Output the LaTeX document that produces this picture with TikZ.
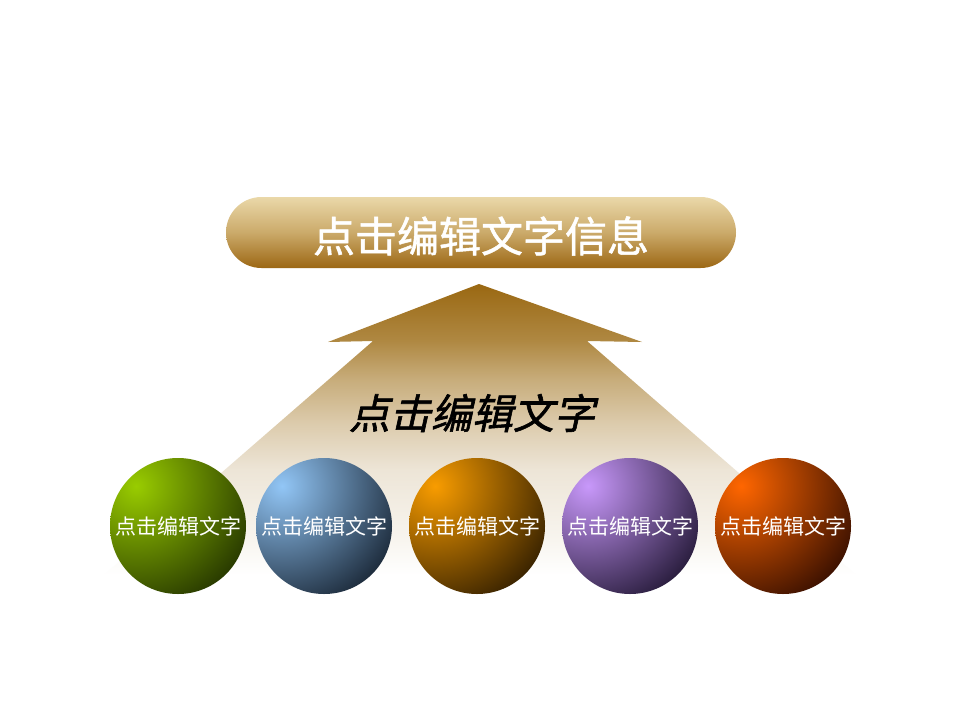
\documentclass[tikz,border=0pt]{standalone}
\usepackage{fontspec}
\newfontfamily\cjk{Noto Sans CJK SC}
\newfontfamily\cjkbanner[FakeBold=1.2]{Noto Sans CJK SC}
\newfontfamily\cjkslant[FakeSlant=0.22,FakeBold=1.5]{Noto Sans CJK SC}
\definecolor{aA}{HTML}{F8F5EF}
\definecolor{aB}{HTML}{EDE5D7}
\definecolor{aC}{HTML}{DCCBAC}
\definecolor{aD}{HTML}{C7AC7A}
\definecolor{aE}{HTML}{AF8842}
\definecolor{aF}{HTML}{9A6812}
\pgfdeclareverticalshading{arrowshade}{100bp}{color(0bp)=(white); color(29bp)=(white); color(34.5bp)=(aA); color(45.6bp)=(aB); color(53bp)=(aC); color(60bp)=(aD); color(66bp)=(aE); color(75bp)=(aF); color(100bp)=(aF)}
\definecolor{bannerTop}{HTML}{EAD8A9}
\definecolor{bannerMid}{HTML}{CBAA6A}
\definecolor{bannerBot}{HTML}{9C6714}
\definecolor{gL}{HTML}{99CC00}\definecolor{gD}{HTML}{273800}
\definecolor{bL}{HTML}{92C6F6}\definecolor{bD}{HTML}{1C2A3A}
\definecolor{oL}{HTML}{F89C00}\definecolor{oD}{HTML}{382200}
\definecolor{pL}{HTML}{C898FA}\definecolor{pD}{HTML}{281C3C}
\definecolor{rL}{HTML}{FF6600}\definecolor{rD}{HTML}{3A1000}
\tikzset{
  ball/.style 2 args={circle, minimum size=136pt, inner sep=0pt, text=white,
    font=\cjk\fontsize{21}{21}\selectfont,
    path picture={\shade[inner color=#1, outer color=#2]
      ([shift={(-42pt,40pt)}]path picture bounding box.center) circle (128pt);}},
  banner/.style={minimum width=510pt, minimum height=71pt, rounded corners=35.5pt,
    inner sep=0pt, top color=bannerTop, bottom color=bannerBot, middle color=bannerMid},
  bannertext/.style={text=white, font=\cjkbanner\fontsize{42}{42}\selectfont},
  arrowlabel/.style={text=black, font=\cjkslant\fontsize{41}{41}\selectfont}
}
\begin{document}
\begin{tikzpicture}[x=1pt,y=-1pt]
\useasboundingbox (0,0) rectangle (960,720);
\fill[white] (0,0) rectangle (960,720);
% arrow
\coordinate (apex) at (479,284);
\coordinate (rtip) at (642,342);
\coordinate (rnotch) at (587,341);
\coordinate (rbot) at (885,600);
\coordinate (lbot) at (75,600);
\coordinate (lnotch) at (373,341);
\coordinate (ltip) at (328,342);
\shade[shading=arrowshade] (apex) -- (rtip) -- (rnotch) -- (rbot) -- (lbot) -- (lnotch) -- (ltip) -- cycle;
\node[arrowlabel] (lbl) at (472,413) {点击编辑文字};
% banner
\node[banner] (top) at (481,232.5) {};
\node[bannertext] (toptext) at (481,236) {点击编辑文字信息};
% balls
\node[ball={gL}{gD}] (c1) at (178,526) {点击编辑文字};
\node[ball={bL}{bD}] (c2) at (324,526) {点击编辑文字};
\node[ball={oL}{oD}] (c3) at (477,526) {点击编辑文字};
\node[ball={pL}{pD}] (c4) at (630,526) {点击编辑文字};
\node[ball={rL}{rD}] (c5) at (783,526) {点击编辑文字};
\end{tikzpicture}
\end{document}
